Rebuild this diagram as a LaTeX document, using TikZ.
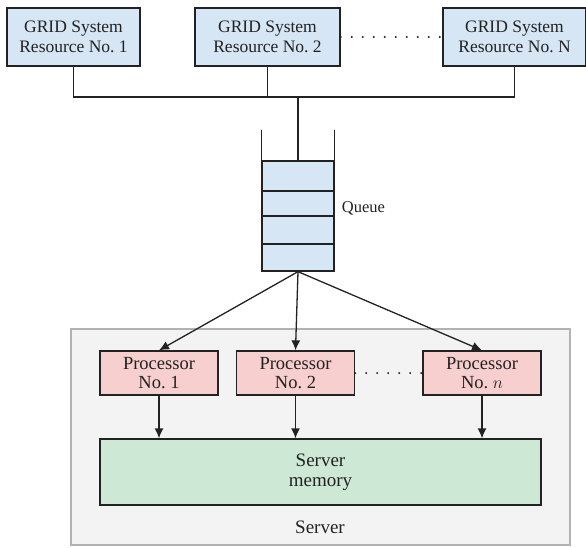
\documentclass[tikz,border=0pt]{standalone}
\usepackage{fontspec}
\setmainfont{Liberation Serif}
\usepackage{tikz}
\usepackage{xcolor}
\usetikzlibrary{arrows.meta}
\usetikzlibrary{calc}

\definecolor{gridblue}{RGB}{214,230,245}
\definecolor{procpink}{RGB}{247,207,207}
\definecolor{memgreen}{RGB}{205,232,212}
\definecolor{srvgray}{RGB}{243,243,243}
\definecolor{inkgray}{RGB}{34,34,34}

\begin{document}
\begin{tikzpicture}[x=1pt, y=-1pt, line width=1.3pt, draw=inkgray, text=inkgray,
    font=\fontsize{17.5}{20}\selectfont,
    gridbox/.style={draw=inkgray, fill=gridblue, rectangle, align=center, inner sep=0pt, minimum height=58pt},
    procbox/.style={draw=inkgray, fill=procpink, rectangle, align=center, inner sep=0pt, minimum width=118pt, minimum height=44pt, font=\fontsize{18.5}{19}\selectfont},
    arr/.style={draw=inkgray, -{Latex[length=10pt,width=9pt]}},
    dots/.style={draw=inkgray, line width=2.2pt, line cap=round, dash pattern=on 0pt off 11pt}]
            \useasboundingbox (0,0) rectangle (586,547);
            % resources on top
            \node[gridbox, minimum width=133pt] (r1) at (73.5,37) {GRID System\\Resource No.~1};
            \node[gridbox, minimum width=145pt] (r2) at (267.5,37) {GRID System\\Resource No.~2};
            \node[gridbox, minimum width=143pt] (rN) at (514.5,37) {GRID System\\Resource No.~N};
            \draw[dots] (r2.east) -- (rN.west);
            \coordinate (bus) at (298,97);
            \draw (r1.south) -- (r1.south |- bus) -- (rN.south |- bus) -- (rN.south);
            \draw (r2.south) -- (r2.south |- bus);
            % queue
            \node[draw=inkgray, fill=gridblue, minimum width=72pt, minimum height=110pt, inner sep=0pt] (q) at (298,216) {};
            \draw (q.north west) -- ++(0,-30);
            \draw (q.north east) -- ++(0,-30);
            \foreach \yy in {191,216,244}
                \draw (q.west |- 0,\yy) -- (q.east |- 0,\yy);
            \node[anchor=west, font=\fontsize{16.5}{18}\selectfont] (qlabel) at (338,208) {Queue};
            \draw (bus) -- (q.north);
            % server
            \node[draw=black!30, fill=srvgray, minimum width=499pt, minimum height=216pt, inner sep=0pt] (srv) at (320.5,437) {};
            \node[font=\fontsize{19}{20}\selectfont] (srvlabel) at (320,527) {Server};
            \node[procbox] (p1) at (159,373) {Processor\\No.~1};
            \node[procbox] (p2) at (295.5,373) {Processor\\No.~2};
            \node[procbox] (pN) at (482,373) {Processor\\No.~$n$};
            \draw[dots] (p2.east) -- (pN.west);
            \node[draw=inkgray, fill=memgreen, minimum width=441pt, minimum height=66pt, inner sep=0pt, align=center, font=\fontsize{19}{20}\selectfont] (mem) at (320.5,472) {Server\\memory};
            \draw[arr] (q.south) -- (p1.north);
            \draw[arr] (q.south) -- (p2.north);
            \draw[arr] (q.south) -- (pN.north);
            \draw[arr] (p1.south) -- (p1.south |- mem.north);
            \draw[arr] (p2.south) -- (p2.south |- mem.north);
            \draw[arr] (pN.south) -- (pN.south |- mem.north);
        \end{tikzpicture}
\end{document}
